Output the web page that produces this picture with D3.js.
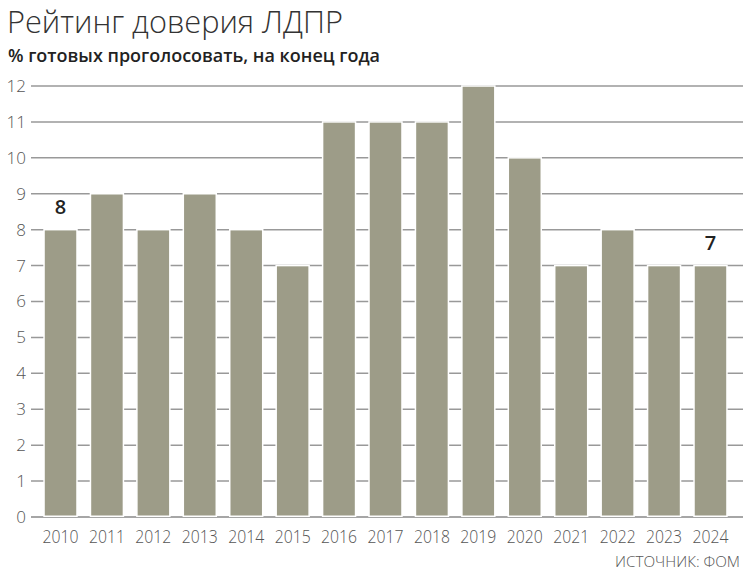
<!DOCTYPE html>
<html><head><meta charset="utf-8">
<script src="https://cdn.jsdelivr.net/npm/d3@7"></script>
<style>body{margin:0;background:#fff}</style>
</head><body>
<svg id="c" width="753" height="576"></svg>
<script>
const years = ["2010","2011","2012","2013","2014","2015","2016","2017","2018","2019","2020","2021","2022","2023","2024"];
const values = [8,9,8,9,8,7,11,11,11,12,10,7,8,7,7];
const yTicks = [0,1,2,3,4,5,6,7,8,9,10,11,12];
const labeled = ["2010","2024"];

const svg = d3.select("#c");
const x = d3.scaleBand().domain(years).range([37.3, 733.7]).paddingInner(0.29).paddingOuter(0.145);
const y = d3.scaleLinear().domain([0,12]).range([517, 86]);

svg.append("text").attr("x",7).attr("y",33).attr("font-family","Open Sans").attr("font-weight",300)
  .attr("font-size",31).attr("fill","#333").attr("textLength",336).attr("lengthAdjust","spacingAndGlyphs").text("Рейтинг доверия ЛДПР");
svg.append("text").attr("x",8).attr("y",62).attr("font-family","Open Sans").attr("font-weight",600)
  .attr("font-size",18).attr("fill","#222").attr("textLength",372).attr("lengthAdjust","spacingAndGlyphs").text("% готовых проголосовать, на конец года");

const grid = svg.append("g");
grid.selectAll("line").data(yTicks).join("line")
  .attr("x1",31).attr("x2",743).attr("y1",d=>y(d)).attr("y2",d=>y(d))
  .attr("stroke",d=>d===0?"#888":"#999").attr("stroke-width",1.5);

const yAxis = d3.axisLeft(y).tickValues(yTicks).tickSize(0).tickPadding(0);
const ya = svg.append("g").attr("transform","translate(26,0)").call(yAxis);
ya.select(".domain").remove();
ya.selectAll("text").attr("font-family","Open Sans").attr("font-weight",300).attr("font-size",17).attr("fill","#555");

svg.append("g").selectAll("rect").data(values).join("rect")
  .attr("x",(d,i)=>x(years[i])).attr("width",x.bandwidth())
  .attr("y",d=>y(d)).attr("height",d=>y(0)-y(d)-0.75)
  .attr("fill","#9d9c88").attr("stroke","#fff").attr("stroke-width",1.5);

const xAxis = d3.axisBottom(x).tickSize(0).tickPadding(0);
const xa = svg.append("g").attr("transform","translate(0,530)").call(xAxis);
xa.select(".domain").remove();
xa.selectAll("text").attr("font-family","Open Sans").attr("font-weight",300).attr("font-size",18).attr("fill","#555")
  .attr("dy","0.71em").attr("textLength",36).attr("lengthAdjust","spacingAndGlyphs");

svg.append("g").selectAll("text").data(values.map((v,i)=>({v,yr:years[i]})).filter(d=>labeled.includes(d.yr))).join("text")
  .attr("x",d=>x(d.yr)+x.bandwidth()/2).attr("y",d=>y(d.v)-15.5)
  .attr("text-anchor","middle").attr("font-family","Open Sans").attr("font-weight",600)
  .attr("font-size",20).attr("fill","#222").text(d=>d.v);

svg.append("text").attr("x",740).attr("y",567).attr("text-anchor","end").attr("font-family","Open Sans")
  .attr("font-weight",300).attr("font-size",15).attr("fill","#555").attr("textLength",125).attr("lengthAdjust","spacingAndGlyphs").text("ИСТОЧНИК: ФОМ");
</script>
</body></html>
